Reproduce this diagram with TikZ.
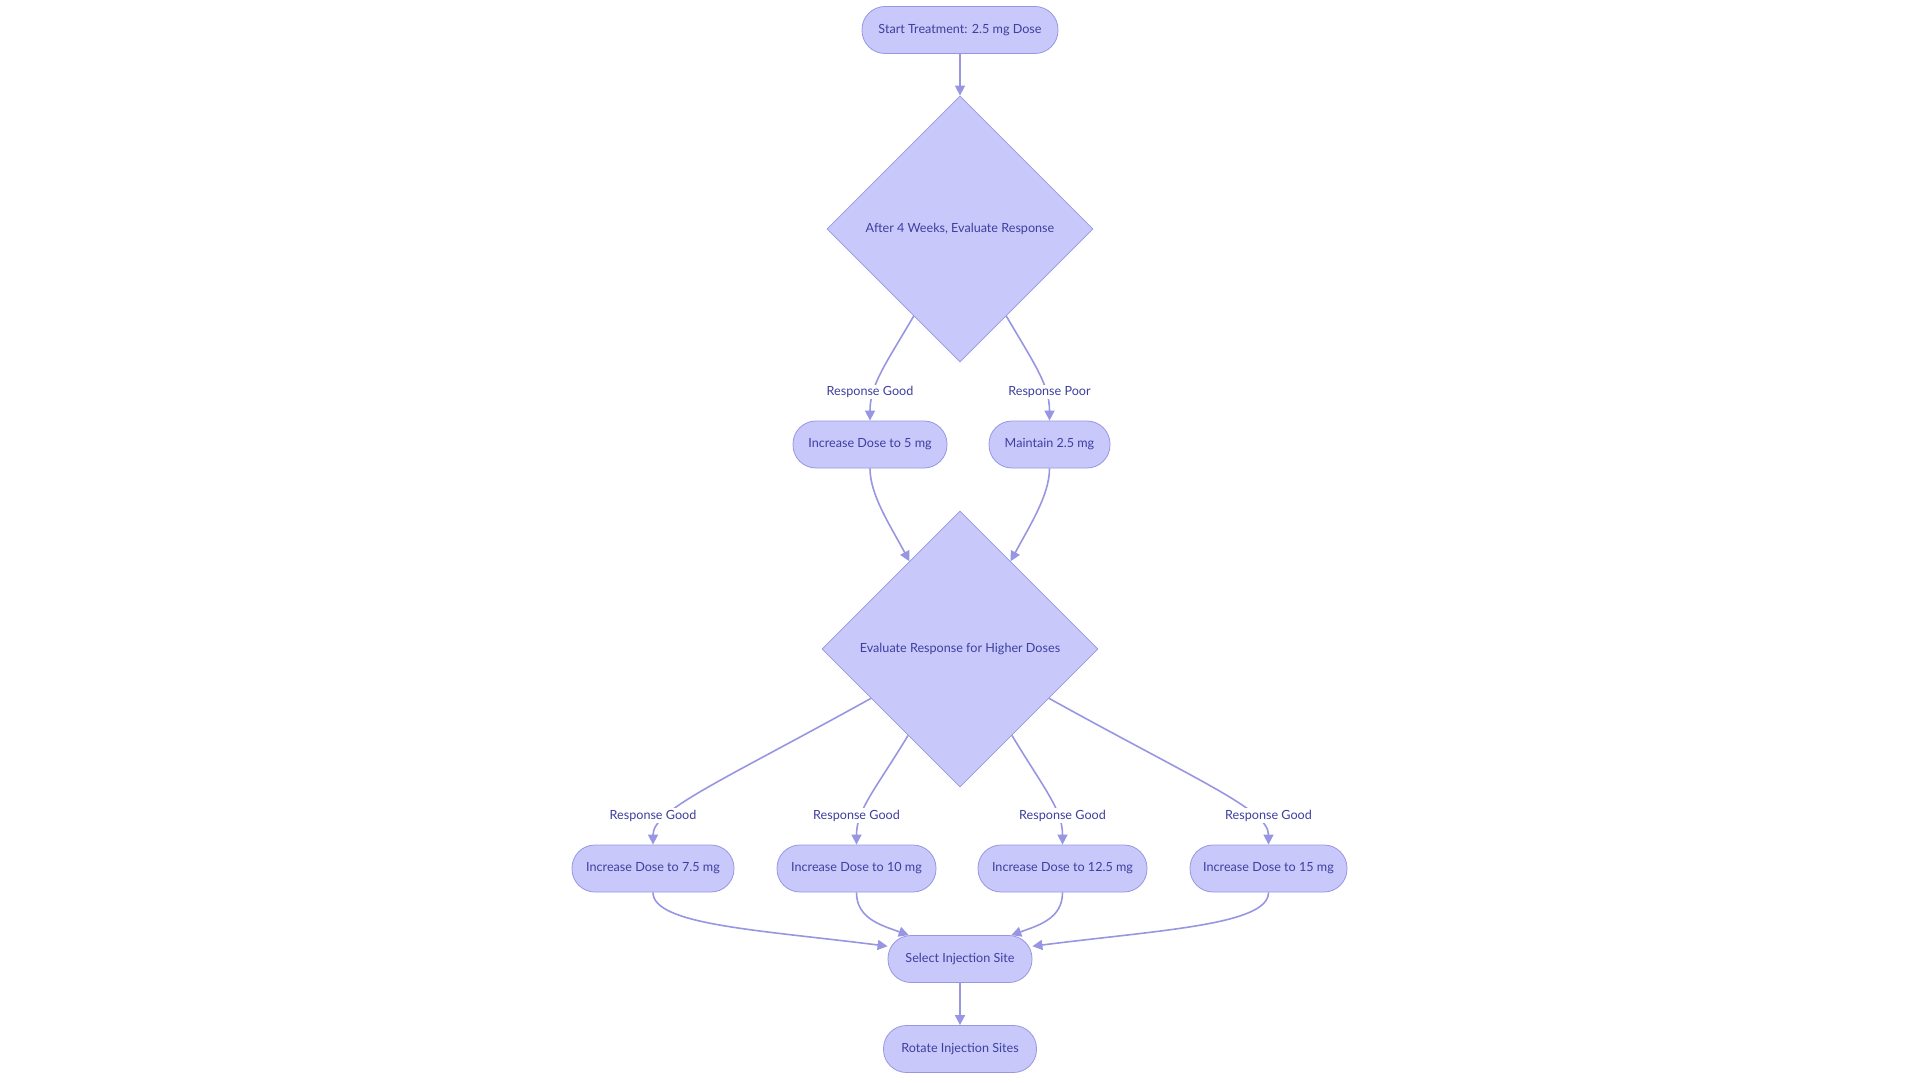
\documentclass[tikz,border=0pt]{standalone}
\usepackage{fontspec}
\setmainfont{Lato}
\usetikzlibrary{shapes.geometric,arrows.meta}
\definecolor{nfill}{RGB}{200,201,250}
\definecolor{nline}{RGB}{152,150,226}
\definecolor{ntext}{RGB}{62,62,160}
\begin{document}
\begin{tikzpicture}[x=1pt,y=-1pt,
  every node/.style={font=\fontsize{12.6}{15}\selectfont, text=ntext},
  proc/.style={draw=nline, fill=nfill, line width=0.8pt, rounded corners=23pt, minimum height=47pt, inner sep=0pt, minimum width=#1},
  dia/.style={diamond, draw=nline, fill=nfill, line width=0.8pt, aspect=1, inner sep=0pt, minimum width=#1, minimum height=#1},
  conn/.style={draw=nline, line width=1.6pt, -{Triangle[length=10pt,width=10pt]}},
  lbl/.style={fill=white, inner sep=1.5pt}]
\useasboundingbox (0,0) rectangle (1920,1083);
\node[proc=196pt] (start) at (960,30) {Start Treatment: 2.5 mg Dose};
\node[dia=266pt] (d1) at (960,229) {After 4 Weeks, Evaluate Response};
\node[proc=154pt] (n5) at (870,444.5) {Increase Dose to 5 mg};
\node[proc=121pt] (nm) at (1049.5,444.5) {Maintain 2.5 mg};
\node[dia=276pt] (d2) at (960,649) {Evaluate Response for Higher Doses};
\node[proc=162pt] (n75) at (653,868.5) {Increase Dose to 7.5 mg};
\node[proc=159pt] (n10) at (856.5,868.5) {Increase Dose to 10 mg};
\node[proc=169pt] (n125) at (1062.5,868.5) {Increase Dose to 12.5 mg};
\node[proc=157pt] (n15) at (1268.5,868.5) {Increase Dose to 15 mg};
\node[proc=144pt] (sel) at (960,959) {Select Injection Site};
\node[proc=153pt] (rot) at (960,1049) {Rotate Injection Sites};

\draw[conn] (start.south) -- (d1.north);
\draw[conn] (d1.242) .. controls (885,365) and (870,385) .. (n5.north);
\draw[conn] (d1.298) .. controls (1035,365) and (1049.5,385) .. (nm.north);
\draw[conn] (n5.south) .. controls (870,495) and (890,525) .. (d2.120);
\draw[conn] (nm.south) .. controls (1049.5,495) and (1030,525) .. (d2.60);
\draw[conn] (d2.209) .. controls (720,782) and (653,810) .. (n75.north);
\draw[conn] (d2.239) .. controls (875,790) and (856.5,810) .. (n10.north);
\draw[conn] (d2.301) .. controls (1045,790) and (1062.5,810) .. (n125.north);
\draw[conn] (d2.331) .. controls (1200,782) and (1268.5,810) .. (n15.north);
\draw[conn] (n75.south) .. controls (653,925) and (760,930) .. (sel.170);
\draw[conn] (n10.south) .. controls (856.5,918) and (880,925) .. (sel.155);
\draw[conn] (n125.south) .. controls (1062.5,918) and (1040,925) .. (sel.25);
\draw[conn] (n15.south) .. controls (1268.5,925) and (1160,930) .. (sel.10);
\draw[conn] (sel.south) -- (rot.north);

\node[lbl] (l1) at (870,392) {Response Good};
\node[lbl] (l2) at (1049.5,392) {Response Poor};
\node[lbl] (l3) at (653,815.5) {Response Good};
\node[lbl] (l4) at (856.5,815.5) {Response Good};
\node[lbl] (l5) at (1062.5,815.5) {Response Good};
\node[lbl] (l6) at (1268.5,815.5) {Response Good};
\end{tikzpicture}
\end{document}
